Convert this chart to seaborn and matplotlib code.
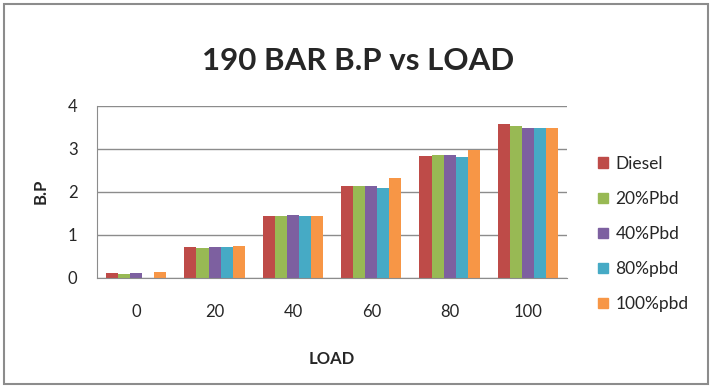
#!/usr/bin/env python3
"""190 BAR B.P vs LOAD grouped bar chart."""

import pandas as pd
import matplotlib.pyplot as plt
import matplotlib.patches as mpatches
import seaborn as sns

loads = ["0", "20", "40", "60", "80", "100"]
fuels = ["Diesel", "20%Pbd", "40%Pbd", "80%pbd", "100%pbd"]

diesel = [0.10, 0.71, 1.43, 2.13, 2.82, 3.58]
pbd20 = [0.08, 0.69, 1.43, 2.13, 2.86, 3.52]
pbd40 = [0.10, 0.72, 1.45, 2.13, 2.85, 3.49]
pbd80 = [0.0, 0.71, 1.43, 2.09, 2.80, 3.49]
pbd100 = [0.125, 0.74, 1.43, 2.31, 2.96, 3.47]

colors = ["#BE4B48", "#98B954", "#7D60A0", "#46AAC5", "#F79646"]

rows = []
for fuel, vals in zip(fuels, [diesel, pbd20, pbd40, pbd80, pbd100]):
    for load, v in zip(loads, vals):
        rows.append({"LOAD": load, "Fuel": fuel, "B.P": v})
df = pd.DataFrame(rows)

sns.set_style("white")
plt.rcParams["font.family"] = ["Lato", "DejaVu Sans"]

fig = plt.figure(figsize=(7.17, 3.92), dpi=100)
ax = fig.add_axes([0.1353, 0.2916, 0.6557, 0.4388])

sns.barplot(data=df, x="LOAD", y="B.P", hue="Fuel", order=loads, hue_order=fuels,
            palette=colors, width=0.77, gap=0, saturation=1, ax=ax, legend=False,
            linewidth=0, edgecolor="none")

ax.set_ylim(0, 4)
ax.set_yticks([0, 1, 2, 3, 4])
ax.set_xlim(-0.5, 5.5)
ax.yaxis.grid(True, color="#8C8C8C", linewidth=1)
ax.set_axisbelow(True)
for side in ["top", "right"]:
    ax.spines[side].set_visible(False)
ax.spines["left"].set_color("#8C8C8C")
ax.spines["bottom"].set_color("#8C8C8C")
ax.tick_params(axis="y", length=5, color="#8C8C8C", labelsize=12, pad=9)
ax.tick_params(axis="x", length=0, labelsize=12, pad=19)

ax.set_xlabel("LOAD", fontsize=12, fontweight="bold", labelpad=22)
ax.set_ylabel("B.P", fontsize=12, fontweight="bold", labelpad=14)
fig.text(0.5, 0.844, "190 BAR B.P vs LOAD", ha="center", va="center",
         fontsize=22.5, fontweight="bold")

handles = [mpatches.Patch(color=c, label=f) for c, f in zip(colors, fuels)]
fig.legend(handles=handles, loc="center left", bbox_to_anchor=(0.834, 0.403),
           frameon=False, fontsize=12.5, labelspacing=1.1, borderpad=0,
           borderaxespad=0, handlelength=0.55, handleheight=0.55,
           handletextpad=0.45)

fig.patches.append(mpatches.Rectangle((0.0056, 0.0204), 0.9818, 0.9694,
                                      transform=fig.transFigure, fill=False,
                                      edgecolor="#8C8C8C", linewidth=1.5))

fig.savefig("out.png", dpi=100)
